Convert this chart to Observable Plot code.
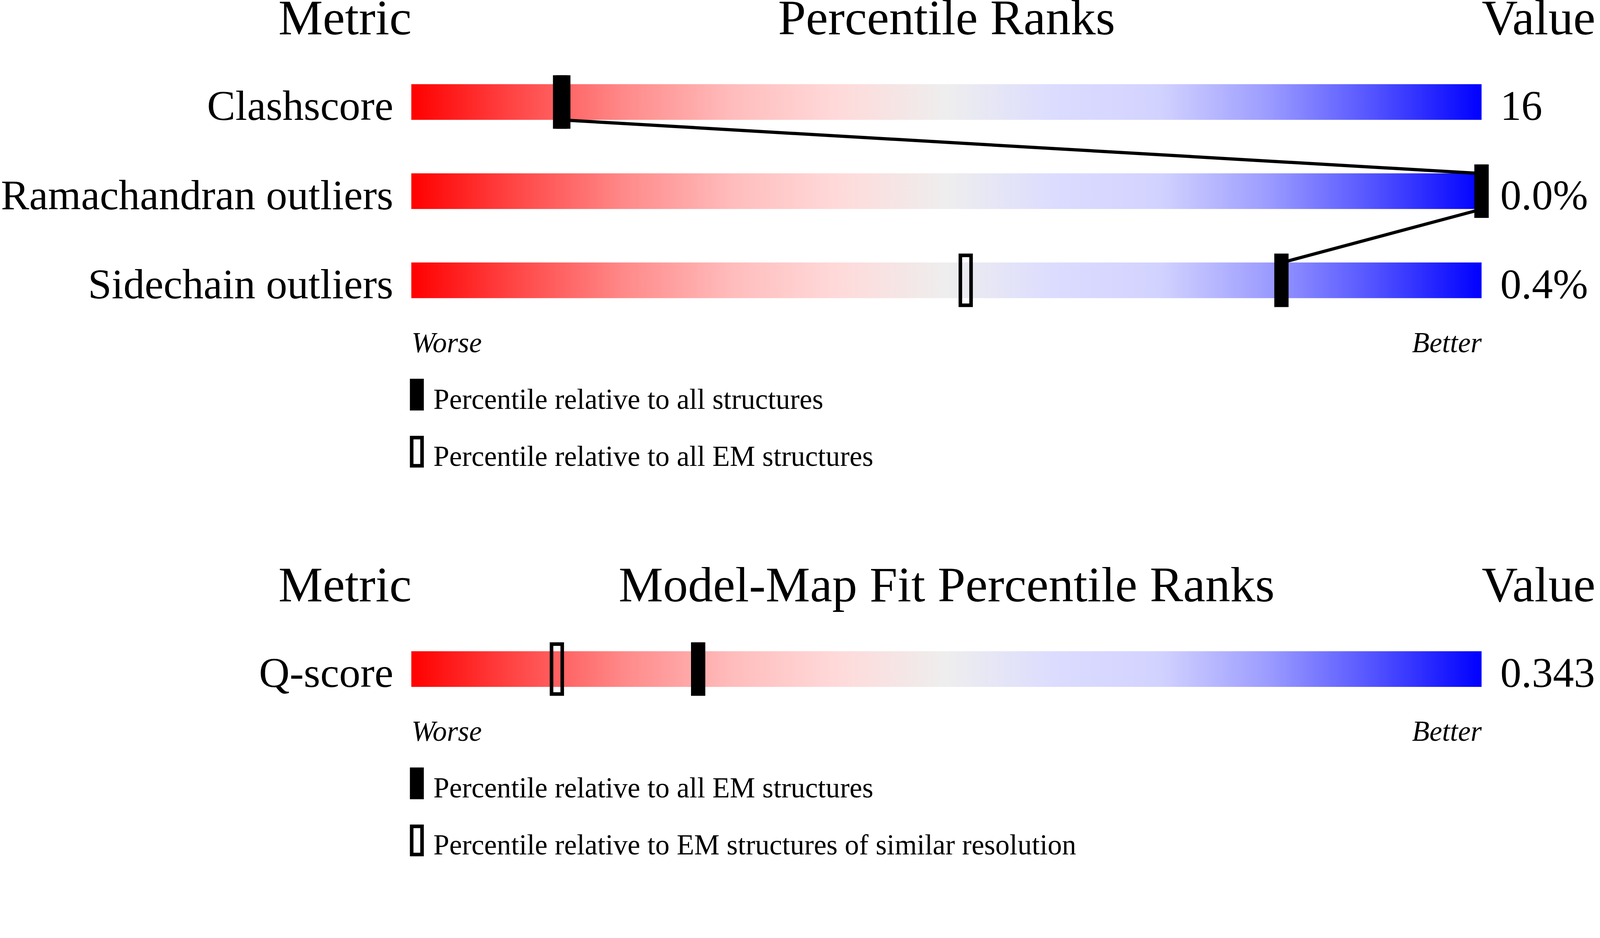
<!DOCTYPE html>
<html>
<head>
<meta charset="utf-8">
<script src="https://cdn.jsdelivr.net/npm/d3@7"></script>
<script src="https://cdn.jsdelivr.net/npm/@observablehq/plot@0.6"></script>
<style>
  html, body { margin: 0; padding: 0; background: white; overflow: hidden; }
  #wrap { position: relative; overflow: hidden; background: white; }
  #page { position: absolute; left: 0; top: 0; width: 4485px; height: 2402px; overflow: hidden; font-family: "Liberation Serif", serif; background: white; transform-origin: 0 0; }
  .panel { position: relative; }
  .legend { position: relative; }
  .sw { position: absolute; left: 1149px; width: 39px; height: 89px; box-sizing: border-box; }
  .sw.all { background: black; }
  .sw.em { border: 10px solid black; background: white; }
  .lt { position: absolute; left: 1215px; font-size: 80px; line-height: 1; white-space: nowrap; color: black; }
</style>
</head>
<body>
<div id="wrap"><div id="page"></div></div>
<script>
/* Panel 1: geometry */
const metrics1 = ["Clashscore", "Ramachandran outliers", "Sidechain outliers"]
const values1 = ["16", "0.0%", "0.4%"]
const pctAll1 = [14.2, 100, 81.3]
const pctEM1 = [13.9, 100, 51.8]
const legend1 = ["Percentile relative to all structures", "Percentile relative to all EM structures"]

/* Panel 2: model-map fit */
const metrics2 = ["Q-score"]
const values2 = ["0.343"]
const pctAll2 = [26.8]
const pctEM2 = [13.6]
const legend2 = ["Percentile relative to all EM structures", "Percentile relative to EM structures of similar resolution"]

/* red -> grey -> blue slider colours */
const gradStops = [
  [0, "#ff0000"], [0.1, "#ff4848"], [0.2, "#ff8a8a"], [0.3, "#ffbcbc"],
  [0.4, "#ffdada"], [0.5, "#eeeeee"], [0.6, "#dcdcff"], [0.7, "#d2d2ff"],
  [0.8, "#9c9cff"], [0.9, "#5252ff"], [1, "#0000ff"]
]

const ROW0 = 286   // centre of first bar
const STEP = 250   // distance between rows
const PANEL_H = 1590

/* fit the 4485 x 2402 page into whatever viewport we get */
const page = document.getElementById("page")
const wrap = document.getElementById("wrap")
const fit = Math.min(window.innerWidth / 4485, window.innerHeight / 2402)
page.style.transform = `scale(${fit})`
wrap.style.width = (4485 * fit) + "px"
wrap.style.height = (2402 * fit) + "px"

function makePanel(title, metrics, values, pctAll, pctEM, legendLabels, gradId) {
  const rows = metrics.map((m, i) => ({metric: m, value: values[i], all: pctAll[i], em: pctEM[i], i}))
  const links = rows.slice(1).map((d, k) => ({from: rows[k], to: d}))
  const n = rows.length
  const worseBase = ROW0 + (n - 1) * STEP + 50 + 151
  const svgH = worseBase + 28

  const chart = Plot.plot({
    width: 4485,
    height: svgH,
    marginLeft: 1153,
    marginRight: 332,
    marginTop: 0,
    marginBottom: 28,
    x: {domain: [0, 100], axis: null},
    y: {domain: [0, 1], range: [ROW0, ROW0 + STEP], axis: null},
    style: {fontFamily: '"Liberation Serif", serif', background: "white", color: "black", maxWidth: "none"},
    marks: [
      // slider bars
      Plot.rect(rows, {
        x1: 0, x2: 100,
        y1: d => d.i - 0.2, y2: d => d.i + 0.2,
        fill: `url(#${gradId})`
      }),
      // line joining the "all" percentiles
      Plot.link(links, {
        x1: d => d.from.all, y1: d => d.from.i + 0.2,
        x2: d => d.to.all, y2: d => d.to.i - 0.2,
        stroke: "black", strokeWidth: 9
      }),
      // open markers (under the filled ones)
      Plot.rect(rows, {
        x1: "em", x2: "em",
        y1: d => d.i - 0.3, y2: d => d.i + 0.3,
        insetLeft: -15, insetRight: -15, insetTop: 5, insetBottom: 5,
        fill: "none", stroke: "black", strokeWidth: 10
      }),
      // filled markers
      Plot.rect(rows, {
        x1: "all", x2: "all",
        y1: d => d.i - 0.3, y2: d => d.i + 0.3,
        insetLeft: -20, insetRight: -20,
        fill: "black"
      }),
      // metric names
      Plot.text(rows, {
        x: 0, y: d => d.i + 0.2, text: "metric",
        textAnchor: "end", lineAnchor: "bottom", dx: -51, fontSize: 119
      }),
      // values
      Plot.text(rows, {
        x: 100, y: d => d.i + 0.2, text: "value",
        textAnchor: "start", lineAnchor: "bottom", dx: 52, fontSize: 118
      }),
      // headers
      Plot.text(["Metric"], {x: 0, text: d => d, frameAnchor: "top", dy: 96, textAnchor: "end", lineAnchor: "bottom", fontSize: 140}),
      Plot.text([title], {x: 50, text: d => d, frameAnchor: "top", dy: 96, textAnchor: "middle", lineAnchor: "bottom", fontSize: 140}),
      Plot.text(["Value"], {x: 100, text: d => d, frameAnchor: "top", dy: 96, textAnchor: "start", lineAnchor: "bottom", fontSize: 140}),
      // worse / better
      Plot.text(["Worse"], {x: 0, text: d => d, frameAnchor: "bottom", textAnchor: "start", lineAnchor: "bottom", fontStyle: "italic", fontSize: 80}),
      Plot.text(["Better"], {x: 100, text: d => d, frameAnchor: "bottom", textAnchor: "end", lineAnchor: "bottom", fontStyle: "italic", fontSize: 80})
    ]
  })

  // gradient for the bars
  const grad = d3.select(chart).insert("defs", ":first-child")
    .append("linearGradient")
    .attr("id", gradId)
    .attr("x1", 0).attr("x2", 1).attr("y1", 0).attr("y2", 0)
  grad.selectAll("stop").data(gradStops).join("stop")
    .attr("offset", d => d[0])
    .attr("stop-color", d => d[1])

  const panel = d3.select(page).append("div").attr("class", "panel")
  panel.append(() => chart)

  /* legend below the svg */
  const legend = panel.append("div").attr("class", "legend")
    .style("height", (PANEL_H - svgH) + "px")
  legendLabels.forEach((label, k) => {
    const swTop = 75 - 28 + k * 160
    legend.append("div").attr("class", "sw " + (k === 0 ? "all" : "em")).style("top", swTop + "px")
    legend.append("div").attr("class", "lt").style("top", (swTop + 84 - 67) + "px").text(label)
  })
}

makePanel("Percentile Ranks", metrics1, values1, pctAll1, pctEM1, legend1, "grad1")
makePanel("Model-Map Fit Percentile Ranks", metrics2, values2, pctAll2, pctEM2, legend2, "grad2")
</script>
</body>
</html>
